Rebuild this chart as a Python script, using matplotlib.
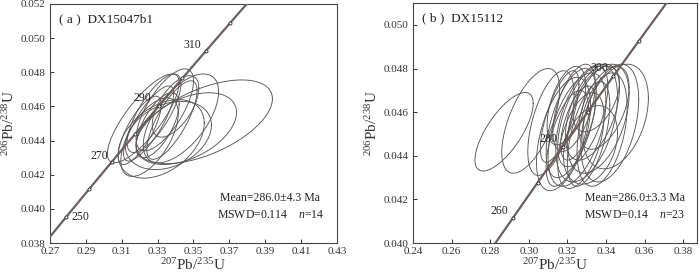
import numpy as np
import matplotlib.pyplot as plt

plt.rcParams['font.family'] = ['Liberation Serif', 'DejaVu Serif']
plt.rcParams['mathtext.fontset'] = 'custom'
plt.rcParams['mathtext.rm'] = 'Liberation Serif'
plt.rcParams['mathtext.it'] = 'Liberation Serif:italic'

# ── decay constants (1/yr) ────────────────────────────────────────────────────
L238 = 1.55125e-10
L235 = 9.8485e-10

# ── panel (a) DX15047b1 ──────────────────────────────────────────────────────
a_cx = [0.356, 0.346, 0.343, 0.332, 0.336, 0.322, 0.325, 0.328, 0.334, 0.338, 0.320, 0.330, 0.340, 0.3255]
a_cy = [0.0451, 0.0447, 0.0453, 0.0441, 0.0443, 0.0453, 0.0450, 0.0456, 0.0458, 0.0452, 0.0446, 0.0449, 0.0460, 0.0442]
a_sx = [0.038, 0.028, 0.021, 0.024, 0.024, 0.020, 0.014, 0.015, 0.016, 0.014, 0.012, 0.012, 0.013, 0.016]
a_sy = [0.00245, 0.0021, 0.0026, 0.0023, 0.0020, 0.0026, 0.0022, 0.0023, 0.0024, 0.0023, 0.0020, 0.0019, 0.0018, 0.0023]
a_rho = [0.55, 0.45, 0.60, 0.40, 0.30, 0.80, 0.80, 0.75, 0.70, 0.75, 0.75, 0.65, 0.60, 0.60]
a_marks = [250, 260, 270, 280, 290, 300, 310, 320]
a_labels = [250, 270, 290, 310]
a_xticks = [0.27, 0.29, 0.31, 0.33, 0.35, 0.37, 0.39, 0.41, 0.43]
a_yticks = [0.038, 0.040, 0.042, 0.044, 0.046, 0.048, 0.050, 0.052]

# ── panel (b) DX15112 ────────────────────────────────────────────────────────
b_cx = [0.2872, 0.301, 0.3115, 0.318, 0.322, 0.325, 0.328, 0.330, 0.333, 0.336, 0.339, 0.345,
        0.342, 0.320, 0.3235, 0.327, 0.331, 0.335, 0.338, 0.316, 0.3255, 0.332, 0.3195]
b_cy = [0.0451, 0.0456, 0.0455, 0.0450, 0.0455, 0.0452, 0.0458, 0.0455, 0.0460, 0.0457, 0.0462, 0.0458,
        0.0455, 0.0448, 0.0462, 0.0447, 0.0450, 0.0466, 0.0452, 0.0458, 0.0455, 0.0445, 0.0463]
b_sx = [0.0151, 0.015, 0.012, 0.014, 0.013, 0.015, 0.013, 0.016, 0.014, 0.016, 0.013, 0.017,
        0.015, 0.011, 0.011, 0.012, 0.011, 0.012, 0.013, 0.010, 0.009, 0.014, 0.010]
b_sy = [0.0018, 0.0024, 0.0024, 0.0026, 0.0025, 0.0026, 0.0023, 0.0027, 0.0022, 0.0025, 0.0019, 0.0024,
        0.0027, 0.0022, 0.0020, 0.0022, 0.0024, 0.0015, 0.0026, 0.0021, 0.0017, 0.0018, 0.0018]
b_rho = [0.72, 0.60, 0.55, 0.50, 0.55, 0.50, 0.60, 0.45, 0.50, 0.45, 0.50, 0.35,
         0.40, 0.60, 0.55, 0.50, 0.55, 0.50, 0.40, 0.70, 0.60, 0.30, 0.50]
b_marks = [260, 270, 280, 290, 300, 310]
b_labels = [260, 280, 300]
b_xticks = [0.24, 0.26, 0.28, 0.30, 0.32, 0.34, 0.36, 0.38]
b_yticks = [0.040, 0.042, 0.044, 0.046, 0.048, 0.050]

LINE_C = '#6e5e5c'
ELL_C = '#5a5454'


def concordia(age_ma):
    t = np.asarray(age_ma, dtype=float) * 1e6
    return np.exp(L235 * t) - 1, np.exp(L238 * t) - 1


def draw_panel(ax, cx, cy, sx, sy, rho, marks, labels, label_off, xticks, yticks,
               xlim, ylim, title, mean_txt, mswd_txt, n_txt, txt_xy):
    # concordia curve
    cx_line, cy_line = concordia(np.linspace(150, 400, 300))
    ax.plot(cx_line, cy_line, color=LINE_C, lw=1.6, zorder=3)
    mx, my = concordia(marks)
    ax.plot(mx, my, 'o', ms=2.2, mfc='white', mec='#222222', mew=0.6, zorder=4)
    for age in labels:
        px, py = concordia(age)
        dx, dy = label_off[age]
        ax.annotate(str(age), (px, py), xytext=(dx, dy), textcoords='offset points',
                    fontsize=8.5, ha='center', va='center', color='#222222', zorder=5)

    # error ellipses
    t = np.linspace(0, 2 * np.pi, 200)
    for x0, y0, a, b, r in zip(cx, cy, sx, sy, rho):
        ex = x0 + a * np.cos(t)
        ey = y0 + b * (r * np.cos(t) + np.sqrt(1 - r ** 2) * np.sin(t))
        ax.plot(ex, ey, color=ELL_C, lw=0.65, zorder=2)

    ax.set_xlim(*xlim)
    ax.set_ylim(*ylim)
    ax.set_xticks(xticks)
    ax.set_yticks(yticks)
    ax.set_xticklabels([f'{v:.2f}' for v in xticks])
    ax.set_yticklabels([f'{v:.3f}' for v in yticks])
    ax.tick_params(direction='in', length=3, width=0.7, labelsize=8, colors='#333333', pad=3)
    for s in ax.spines.values():
        s.set_color('#444444')
        s.set_linewidth(0.8)
    ax.set_xlabel(r'$^{207}\mathrm{Pb}/^{235}\mathrm{U}$', fontsize=11, labelpad=1, color='#333333')
    ax.set_ylabel(r'$^{206}\mathrm{Pb}/^{238}\mathrm{U}$', fontsize=11, labelpad=3, color='#333333')

    ax.text(0.03, 0.925, title, transform=ax.transAxes, fontsize=9.5, color='#222222')
    tx, ty = txt_xy
    ax.text(tx, ty, mean_txt, transform=ax.transAxes, fontsize=8.5, ha='center', color='#222222')
    ax.text(tx, ty - 0.072, mswd_txt + r'    $\mathit{n}$=' + n_txt, transform=ax.transAxes,
            fontsize=8.5, ha='center', color='#222222')


fig = plt.figure(figsize=(7.0, 2.77), dpi=100)
ax_a = fig.add_axes([0.0714, 0.1227, 0.410, 0.863])
ax_b = fig.add_axes([0.590, 0.1227, 0.406, 0.866])

draw_panel(ax_a, a_cx, a_cy, a_sx, a_sy, a_rho, a_marks, a_labels,
           {250: (10, 0), 270: (-9, 4), 290: (-12, 6), 310: (-10, 4)},
           a_xticks, a_yticks, (0.27, 0.43), (0.038, 0.052),
           '( a )  DX15047b1', 'Mean=286.0\u00b14.3 Ma', 'MSWD=0.114', '14', (0.768, 0.175))

draw_panel(ax_b, b_cx, b_cy, b_sx, b_sy, b_rho, b_marks, b_labels,
           {260: (-10, 5), 280: (-10, 6), 300: (-10, 6)},
           b_xticks, b_yticks, (0.24, 0.3873), (0.040, 0.051),
           '( b )  DX15112', 'Mean=286.0\u00b13.3 Ma', 'MSWD=0.14', '23', (0.78, 0.175))

fig.savefig('out.png', dpi=100)
